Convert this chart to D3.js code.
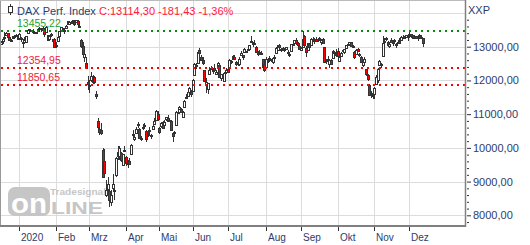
<!DOCTYPE html>
<html lang="de">
<head>
<meta charset="UTF-8">
<title>DAX Perf. Index</title>
<script src="https://d3js.org/d3.v7.min.js"></script>
<style>
  body { margin: 0; background: #fff; }
  svg { display: block; font-family: "Liberation Sans", Arial, sans-serif; }
  .axis path { display: none; }
  .axis line { stroke: #333; }
  .axis text { fill: #2d3c6b; }
</style>
</head>
<body>
<div id="chart"></div>
<script>
// Tageskerzen 11.12.2019 - 11.12.2020 (eine Zeile pro Monat)
const open = [
  13080,13150,13300,13350,13410,13300,13200,13250,13320,13320,13330,
  13270,13250,13150,13200,13150,13420,13520,13490,13480,13440,13440,13480,13540,13530,13560,13480,13430,13350,13230,13370,13220,13230,
  13050,13150,13330,13490,13540,13450,13560,13670,13690,13740,13760,13730,13720,13760,13620,13200,13020,12700,12530,11950,
  11830,12000,11960,12100,11600,10800,10550,10520,9950,9600,8600,8800,8710,8400,8800,8700,9200,9750,9760,9840,9500,9950,
  9720,9500,9600,9810,10400,10270,10450,10680,10560,10270,10590,10650,10500,10380,10530,10380,10560,10720,10850,11000,
  10600,10650,10780,10680,10830,10900,10800,10810,10430,10450,10670,11070,11150,11160,10940,11220,11480,11530,11650,11650,
  11700,12150,12460,12530,12900,12700,12620,12300,11850,11720,12200,12350,12320,12380,12200,12400,12460,12060,12110,11990,12250,
  12350,12400,12570,12650,12690,12560,12530,12490,12730,12750,12850,12850,12900,12920,13130,13120,13110,12990,12780,12850,12820,12630,12480,
  12400,12590,12650,12630,12560,12700,12800,12920,13050,12930,12950,12920,12920,12830,12770,12850,13070,13100,13190,13100,13020,
  12920,13000,13320,12950,12900,13070,13050,13240,13200,13240,13230,13260,13150,13230,12990,12560,12620,12500,12600,12650,12840,12790,
  12880,12560,12730,12900,12830,12950,13080,13080,13130,13010,12850,12800,12920,12780,12700,12450,12570,12330,12170,11850,11620,11580,
  11620,11870,12000,12450,12500,12700,13150,13250,13150,13010,13200,13100,13160,13060,13110,13180,13200,13300,13290,13280,13330,
  13350,13380,13340,13270,13320,13260,13310,13280,13250
];
const high = [
  13160,13250,13425,13425,13420,13310,13240,13320,13340,13370,13340,
  13400,13290,13170,13280,13330,13500,13530,13500,13515,13460,13450,13540,13570,13560,13600,13500,13600,13360,13340,13400,13240,13260,
  13150,13300,13480,13580,13560,13500,13650,13760,13750,13760,13790,13740,13795,13780,13650,13240,13140,12880,12690,12120,
  12020,12240,12160,12130,11700,10900,10760,10730,10000,9980,9060,9150,8900,8760,9230,8850,9720,10050,10070,9890,9830,10050,
  9750,9650,9690,10120,10520,10390,10620,10760,10580,10360,10720,10740,10520,10460,10620,10410,10690,10900,11120,11090,
  10610,10760,10790,10820,10920,10960,10880,10830,10460,10500,11080,11150,11250,11190,11090,11410,11600,11700,11800,11710,
  12050,12520,12530,12910,12950,12740,12700,12310,12060,11930,12410,12430,12340,12500,12300,12550,12480,12180,12200,12250,12360,
  12400,12640,12610,12750,12750,12570,12610,12680,12880,12760,12950,12880,12960,13060,13320,13150,13200,13020,12860,12890,12880,12640,12500,
  12680,12640,12710,12650,12690,12750,13000,13060,13070,12960,12980,12960,13000,12890,12840,13070,13110,13200,13250,13130,13060,
  13000,13460,13360,13010,13110,13100,13260,13300,13270,13280,13270,13290,13220,13250,13000,12640,12730,12630,12650,12890,12870,12930,
  12950,12720,12830,12940,12940,13050,13100,13150,13150,13060,12870,12920,12950,12800,12730,12590,12690,12350,12200,11900,11700,11650,
  11800,12150,12370,12600,12520,13310,13250,13300,13180,13090,13270,13160,13220,13100,13190,13270,13310,13340,13310,13340,13350,
  13460,13390,13360,13320,13330,13290,13390,13350,13260
];
const low = [
  13050,13090,13220,13330,13270,13200,13170,13230,13290,13300,13240,
  13260,13130,12950,13170,13100,13400,13450,13440,13400,13380,13370,13470,13510,13430,13500,13300,13420,13170,13170,13300,13100,12970,
  12950,13130,13300,13470,13460,13390,13550,13660,13650,13700,13740,13610,13700,13580,13540,12950,12780,12560,12350,11720,
  11630,11960,11900,11900,11460,10500,10380,10370,9120,9120,8550,8560,8255,8290,8750,8450,9150,9650,9650,9570,9450,9880,
  9460,9400,9480,9780,10290,10190,10400,10600,10250,10190,10530,10580,10160,10330,10400,10250,10530,10680,10820,10810,
  10400,10600,10580,10660,10800,10800,10770,10520,10160,10320,10660,10990,11140,11030,10920,11200,11460,11500,11550,11500,
  11680,12130,12330,12500,12770,12570,12450,11950,11630,11610,12160,12310,12180,12290,12150,12380,12080,11990,12060,11970,12200,
  12240,12390,12500,12620,12600,12440,12420,12430,12720,12620,12820,12800,12870,12880,13110,12990,13060,12820,12730,12790,12760,12340,12250,
  12390,12510,12590,12550,12480,12640,12780,12890,12950,12850,12880,12830,12900,12780,12700,12840,13010,13080,13050,13000,12920,
  12880,12990,13050,12700,12880,12940,13040,13160,13080,13170,13150,13190,13060,13100,12520,12480,12600,12380,12460,12630,12750,12680,
  12720,12540,12700,12850,12780,12940,13010,13050,12980,12960,12650,12760,12830,12680,12530,12400,12560,12140,11990,11540,11480,11450,
  11450,11860,11920,12430,12360,12680,13080,13180,13030,12960,13130,13010,13120,12970,13090,13070,13170,13270,13250,13260,13180,
  13300,13250,13220,13230,13220,13180,13290,13260,13000
];
const close = [
  13141,13222,13283,13407,13288,13222,13212,13319,13300,13337,13249,
  13386,13219,13127,13227,13321,13495,13483,13452,13457,13432,13430,13526,13549,13556,13515,13388,13577,13205,13324,13345,13158,12982,
  13046,13282,13479,13575,13514,13494,13627,13750,13745,13745,13784,13681,13789,13665,13579,13035,12790,12775,12367,11890,
  11857,12128,12127,11945,11542,10625,10475,10439,9161,9232,8742,8939,8442,8610,8929,8742,9701,9874,10000,9633,9816,9936,
  9544,9571,9525,10075,10356,10332,10565,10696,10280,10301,10626,10676,10250,10415,10513,10336,10659,10796,11107,10862,
  10467,10730,10606,10759,10904,10825,10820,10542,10337,10465,11058,11075,11223,11065,11074,11391,11504,11657,11781,11587,
  12021,12487,12431,12848,12820,12617,12530,11970,11949,11911,12315,12382,12281,12331,12262,12524,12093,12177,12089,12232,12311,
  12260,12609,12528,12734,12617,12495,12489,12633,12800,12697,12931,12874,12920,13046,13171,13104,13104,12838,12839,12836,12822,12379,12313,
  12647,12601,12660,12592,12675,12687,12947,13059,12994,12901,12921,12882,12977,12830,12765,13067,13062,13191,13096,13033,12945,
  12974,13243,13057,12842,13100,12968,13238,13209,13203,13194,13218,13255,13208,13116,12542,12594,12643,12607,12469,12871,12826,12761,
  12731,12689,12828,12906,12928,13042,13051,13138,13019,13028,12704,12909,12854,12737,12558,12543,12646,12178,12064,11561,11598,11556,
  11789,12089,12324,12568,12480,13096,13164,13217,13053,13077,13139,13133,13202,13086,13137,13127,13292,13290,13286,13336,13291,
  13382,13313,13253,13299,13271,13278,13340,13296,13114
];

// Börsenfeiertage im Zeitraum (Xetra)
const holidays = ["2019-12-24", "2019-12-25", "2019-12-26", "2019-12-31", "2020-01-01",
                  "2020-04-10", "2020-04-13", "2020-05-01", "2020-06-01"];
const monthLabels = ["2020", "Feb", "Mrz", "Apr", "Mai", "Jun", "Jul", "Aug", "Sep", "Okt", "Nov", "Dez"];
const levels = [
  { value: 13455.22, label: "13455,22", line: "#078a07", text: "#2ca02c" },
  { value: 12354.95, label: "12354,95", line: "#ff0000", text: "#f0203c" },
  { value: 11850.65, label: "11850,65", line: "#ff0000", text: "#f0203c" }
];
const title = "DAX Perf. Index";
const lastInfo = "C:13114,30 -181,43 -1,36%";
const yMajor = [8000, 9000, 10000, 11000, 12000, 13000];
const yGrid = [8000, 9000, 10000, 11000, 12000, 13000, 14000];

const W = 530, H = 245;
const plotRight = 465, plotBottom = 226;

// Handelstage aufbauen
const days = [];
for (let d = new Date(Date.UTC(2019, 11, 11)); d <= Date.UTC(2020, 11, 11); d.setUTCDate(d.getUTCDate() + 1)) {
  const wd = d.getUTCDay();
  const iso = d.toISOString().slice(0, 10);
  if (wd === 0 || wd === 6 || holidays.includes(iso)) continue;
  days.push(new Date(d));
}
const n = Math.min(days.length, close.length);

const monthTicks = [];
for (let i = 1; i < n; i++) {
  if (days[i].getUTCMonth() !== days[i - 1].getUTCMonth()) monthTicks.push(i);
}

const x = d3.scaleLinear().domain([0, 279]).rangeRound([1, 466]);
const y = d3.scaleLinear().domain([7683, 14385]).range([plotBottom, 0]);

const svg = d3.select("#chart").append("svg")
    .attr("width", W)
    .attr("height", H);

svg.append("rect").attr("width", W).attr("height", H).attr("fill", "#fff");

svg.append("clipPath").attr("id", "plotclip")
  .append("rect").attr("x", 0).attr("y", 0).attr("width", plotRight).attr("height", plotBottom);

// Gitter
const grid = svg.append("g");
grid.selectAll("line.h").data(yGrid).join("line")
    .attr("x1", 0).attr("x2", plotRight)
    .attr("y1", d => Math.round(y(d)) + 0.5)
    .attr("y2", d => Math.round(y(d)) + 0.5)
    .attr("stroke", "#dcdcdc");
grid.selectAll("line.v").data(monthTicks).join("line")
    .attr("x1", d => x(d) + 0.5).attr("x2", d => x(d) + 0.5)
    .attr("y1", 0).attr("y2", plotBottom)
    .attr("stroke", "#dcdcdc");

// Wasserzeichen
const logo = svg.append("g").attr("fill", "#c6c6c6");
logo.append("rect").attr("x", 8).attr("y", 187).attr("width", 42).attr("height", 29).attr("rx", 7);
logo.append("text").attr("x", 11).attr("y", 213).attr("fill", "#fff")
    .attr("font-size", 27).attr("font-weight", "bold")
    .attr("textLength", 36).attr("lengthAdjust", "spacingAndGlyphs").text("on");
logo.append("text").attr("x", 51).attr("y", 214)
    .attr("font-size", 17).attr("font-weight", "bold")
    .attr("textLength", 52).attr("lengthAdjust", "spacingAndGlyphs").text("LINE");
logo.append("text").attr("x", 50).attr("y", 195)
    .attr("font-size", 9.5).attr("font-weight", "bold")
    .attr("textLength", 56).attr("lengthAdjust", "spacingAndGlyphs").text("Tradesignal");

// Kerzen
const plot = svg.append("g").attr("clip-path", "url(#plotclip)");
const candles = plot.selectAll("g.candle").data(d3.range(n)).join("g");
candles.append("line")
    .attr("x1", i => x(i) + 0.5).attr("x2", i => x(i) + 0.5)
    .attr("y1", i => Math.round(y(high[i])))
    .attr("y2", i => Math.round(y(low[i])))
    .attr("stroke", "#333");
candles.append("rect")
    .attr("x", i => x(i) - 0.5)
    .attr("y", i => Math.round(y(Math.max(open[i], close[i]))) + 0.5)
    .attr("width", 2)
    .attr("height", i => Math.max(1, Math.round(Math.abs(y(open[i]) - y(close[i])))))
    .attr("fill", i => close[i] < open[i] ? "#ff0000" : "#fff")
    .attr("stroke", "#333");

// Marken
const lv = svg.append("g");
lv.selectAll("line").data(levels).join("line")
    .attr("x1", 1).attr("x2", plotRight)
    .attr("y1", d => Math.round(y(d.value)))
    .attr("y2", d => Math.round(y(d.value)))
    .attr("stroke", d => d.line)
    .attr("stroke-width", 2)
    .attr("stroke-dasharray", "2 4");
lv.selectAll("text").data(levels).join("text")
    .attr("x", 17)
    .attr("y", d => Math.round(y(d.value)) - 4)
    .attr("font-size", 10.5)
    .attr("fill", d => d.text)
    .text(d => d.label);

// Rahmen
svg.append("line").attr("x1", 0.5).attr("x2", 0.5).attr("y1", 0).attr("y2", plotBottom).attr("stroke", "#999");
svg.append("line").attr("x1", 0).attr("x2", plotRight).attr("y1", 0.5).attr("y2", 0.5).attr("stroke", "#bbb");
svg.append("line").attr("x1", plotRight + 0.5).attr("x2", plotRight + 0.5).attr("y1", 0).attr("y2", plotBottom + 1).attr("stroke", "#808080").attr("stroke-width", 1.5);
svg.append("line").attr("x1", 0).attr("x2", plotRight + 1).attr("y1", plotBottom).attr("y2", plotBottom).attr("stroke", "#808080").attr("stroke-width", 2);

// Y-Achse
const fmt = d => d3.format(".2f")(d).replace(".", ",");
svg.append("g").attr("class", "axis")
    .attr("transform", `translate(${plotRight + 2},0)`)
    .call(d3.axisRight(y).tickValues(yMajor).tickSize(4).tickPadding(2).tickFormat(fmt))
    .selectAll("text").attr("font-size", 11);
const minor = d3.range(7800, 13801, 200).filter(v => v % 1000 !== 0);
svg.append("g").attr("class", "axis")
    .attr("transform", `translate(${plotRight + 2},0)`)
    .call(d3.axisRight(y).tickValues(minor).tickSize(2).tickFormat(""));
svg.append("text").attr("x", 468).attr("y", 14)
    .attr("font-size", 11).attr("fill", "#2d3c6b").text("XXP");

// X-Achse
const xAxis = svg.append("g").attr("class", "axis")
    .attr("transform", `translate(0,${plotBottom + 1})`)
    .call(d3.axisBottom(x).tickValues(monthTicks).tickSize(4)
      .tickFormat(d => monthLabels[days[d].getUTCMonth()]));
xAxis.selectAll("text")
    .attr("font-size", 10)
    .attr("text-anchor", "start")
    .attr("x", 1.5)
    .attr("y", 7);

// Titel
const icon = svg.append("g");
icon.append("line").attr("x1", 10.5).attr("x2", 10.5).attr("y1", 4).attr("y2", 15).attr("stroke", "#333");
icon.append("rect").attr("x", 8.5).attr("y", 6.5).attr("width", 4).attr("height", 6).attr("fill", "#fff").attr("stroke", "#333");
const t = svg.append("text").attr("x", 17).attr("y", 14.5).attr("font-size", 11);
t.append("tspan").attr("fill", "#2d3c6b").text(title + " ");
t.append("tspan").attr("fill", "#ff1a40").text(lastInfo);
</script>
</body>
</html>
